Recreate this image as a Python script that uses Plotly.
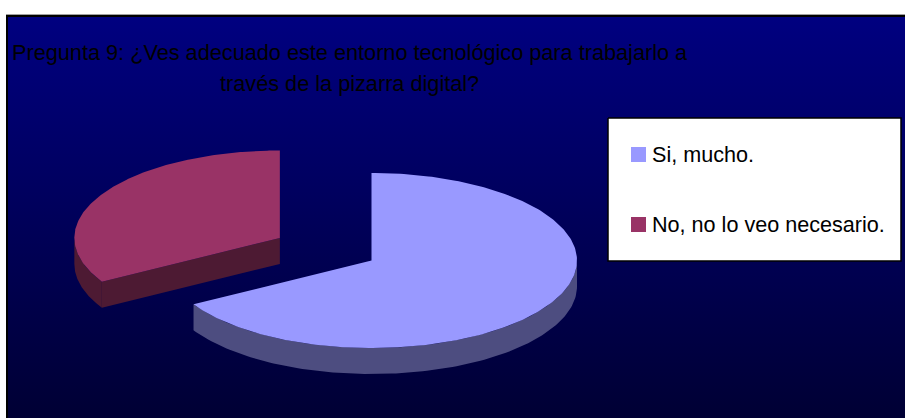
import numpy as np
import plotly.graph_objects as go

# Survey answers
categories = ["Si, mucho.", "No, no lo veo necesario."]
values = [2, 1]
face_colors = ["#9999FF", "#993366"]
side_colors = ["#4D4D80", "#4D1A33"]
title_lines = [
    "Pregunta 9: ¿Ves adecuado este entorno tecnológico para trabajarlo a",
    "través de la pizarra digital?",
]

W, H = 905, 418
FONT = "Liberation Sans"

# Oblique pie geometry, in pixels
CX, CY = 371.5, 260.5
RX, RY = 205.5, 87.5
DEPTH = 26
EXPLODE = [0.0, 0.515]


def point(cx, cy, deg):
    """Pie angle, clockwise from twelve o'clock, to screen position."""
    r = np.radians(deg)
    return cx + RX * np.sin(r), cy - RY * np.cos(r)


fig = go.Figure()

# Panel background with its vertical fade
fig.add_trace(go.Scatter(
    x=[7, W + 5, W + 5, 7, 7], y=[16, 16, H + 5, H + 5, 16],
    mode="lines", line=dict(width=0), fill="toself", hoverinfo="skip",
    fillgradient=dict(
        type="vertical",
        colorscale=[[0, "#000033"], [1, "#000080"]],
    ),
    showlegend=False,
))

total = sum(values)
start = 0.0
slices = []
for name, v, boom, face, side in zip(categories, values, EXPLODE, face_colors, side_colors):
    sweep = 360.0 * v / total
    end = start + sweep
    mid = np.radians((start + end) / 2)
    cx = CX + boom * RX * np.sin(mid)
    cy = CY - boom * RY * np.cos(mid)
    slices.append((name, start, end, cx, cy, face, side))
    start = end

for name, a0, a1, cx, cy, face, side in slices:
    # Rim facing the viewer: only the lower half of the ellipse shows
    lo, hi = max(a0, 90), min(a1, 270)
    if hi > lo:
        ang = np.linspace(lo, hi, 120)
        x, y = point(cx, cy, ang)
        fig.add_trace(go.Scatter(
            x=np.r_[x, x[::-1], x[0]], y=np.r_[y, y[::-1] + DEPTH, y[0]],
            mode="lines", line=dict(width=0), fill="toself", fillcolor=side,
            hoverinfo="skip", showlegend=False,
        ))
    # Cut face along the leading radius, visible when it turns toward the viewer
    if 180 < a0 < 270:
        ex, ey = point(cx, cy, a0)
        fig.add_trace(go.Scatter(
            x=[cx, ex, ex, cx, cx], y=[cy, ey, ey + DEPTH, cy + DEPTH, cy],
            mode="lines", line=dict(width=0), fill="toself", fillcolor=side,
            hoverinfo="skip", showlegend=False,
        ))
    # Top surface
    ang = np.linspace(a0, a1, 240)
    x, y = point(cx, cy, ang)
    fig.add_trace(go.Scatter(
        x=np.r_[cx, x, cx], y=np.r_[cy, y, cy],
        mode="lines", line=dict(width=0), fill="toself", fillcolor=face,
        name=name, hoverinfo="name", showlegend=False,
    ))

# Legend box
fig.add_trace(go.Scatter(
    x=[608, 901, 901, 608, 608], y=[118, 118, 261, 261, 118],
    mode="lines", line=dict(color="#000000", width=1.5), fill="toself",
    fillcolor="#FFFFFF", hoverinfo="skip", showlegend=False,
))

# Legend swatches
LEG_Y = [154.5, 224.5]
fig.add_trace(go.Scatter(
    x=[638.5, 638.5], y=LEG_Y, mode="markers", hoverinfo="skip", showlegend=False,
    marker=dict(symbol="square", size=15, color=face_colors, line=dict(width=0)),
))

annotations = [
    dict(x=x, y=y, text=t, xref="x", yref="y", showarrow=False,
         xanchor="center", yanchor="middle", font=dict(family=FONT, size=21.7, color="#000000"))
    for t, x, y in zip(title_lines, [349.5, 349.5], [52, 83])
]
annotations += [
    dict(x=649.5, y=y, text=t, xref="x", yref="y", showarrow=False,
         xanchor="left", yanchor="middle", font=dict(family=FONT, size=21.6, color="#000000"))
    for t, y in zip(categories, LEG_Y)
]

fig.update_layout(
    width=W, height=H, autosize=False,
    margin=dict(l=0, r=0, t=0, b=0),
    paper_bgcolor="#FFFFFF", plot_bgcolor="#FFFFFF",
    xaxis=dict(range=[0, W], visible=False, fixedrange=True),
    yaxis=dict(range=[H, 0], visible=False, fixedrange=True),
    showlegend=False,
    annotations=annotations,
    shapes=[
        # Panel outline
        dict(type="line", x0=7, x1=7, y0=15, y1=H + 5, line=dict(color="#000000", width=2), layer="above"),
        dict(type="line", x0=6, x1=W + 5, y0=16, y1=16, line=dict(color="#000000", width=2), layer="above"),
        dict(type="line", x0=6, x1=W + 5, y0=14.5, y1=14.5, line=dict(color="#A0A0A0", width=1), layer="above"),
    ],
)

fig.write_html("out.html", config=dict(displayModeBar=False))
